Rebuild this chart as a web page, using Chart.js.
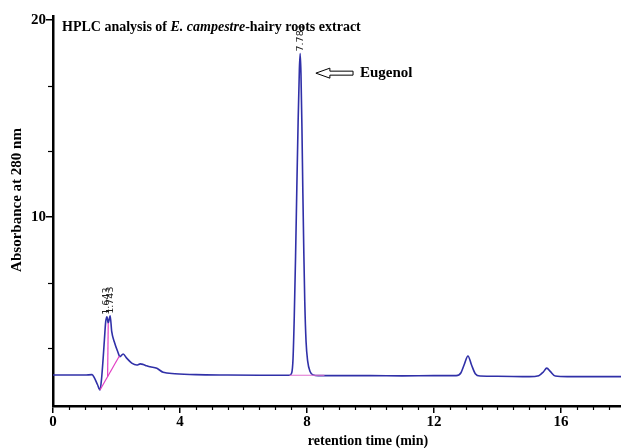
<!DOCTYPE html>
<html>
<head>
<meta charset="utf-8">
<script src="https://cdn.jsdelivr.net/npm/chart.js@4.4.1/dist/chart.umd.min.js"></script>
<style>
html,body{margin:0;padding:0;background:#fff;}
canvas{display:block;}
</style>
</head>
<body>
<canvas id="c" width="621" height="448"></canvas>
<script>
// ---- data ----
const retentionTimes = [0, 0.5, 1.0, 1.23, 1.30, 1.40, 1.48, 1.53, 1.58, 1.62, 1.66, 1.70, 1.74, 1.77, 1.80, 1.85, 1.93, 2.04, 2.11, 2.21, 2.32, 2.48, 2.64, 2.75, 2.84, 2.95, 3.06, 3.27, 3.47, 3.84, 4.5, 5.5, 6.5, 7.2, 7.45, 7.52, 7.56, 7.60, 7.64, 7.68, 7.72, 7.76, 7.785, 7.81, 7.84, 7.87, 7.90, 7.93, 7.97, 8.02, 8.10, 8.20, 8.35, 9, 10, 11, 12, 12.7, 12.85, 12.95, 13.07, 13.18, 13.3, 13.45, 14, 15, 15.3, 15.45, 15.55, 15.67, 15.82, 16.2, 17, 17.89];
const absorbance = [1.98, 1.98, 1.98, 2.0, 1.85, 1.5, 1.22, 1.8, 2.84, 3.8, 4.69, 4.94, 4.62, 4.8, 4.99, 4.18, 3.67, 3.16, 2.91, 3.05, 2.84, 2.59, 2.49, 2.55, 2.52, 2.45, 2.40, 2.32, 2.12, 2.05, 2.0, 1.98, 1.97, 1.97, 1.97, 2.1, 2.8, 5.0, 8.0, 11.5, 14.8, 17.5, 18.3, 17.3, 14.6, 11.2, 8.2, 5.7, 3.7, 2.7, 2.15, 1.98, 1.95, 1.95, 1.95, 1.94, 1.95, 1.95, 2.1, 2.5, 2.95, 2.5, 2.05, 1.93, 1.92, 1.9, 1.95, 2.15, 2.33, 2.15, 1.93, 1.9, 1.9, 1.9];
// integration baselines / drop line (pink)
const baseA_t = [1.48, 2.09], baseA_v = [1.22, 2.95];
const dropB_t = [1.74, 1.72], dropB_v = [4.62, 1.9];
const baseC_t = [7.45, 8.55], baseC_v = [1.97, 1.97];
// peak labels
const peakLabels = ["1.643", "1.743", "7.781"];
const peakTimes = [1.70, 1.80, 7.785];
const peakHeights = [4.94, 4.99, 18.3];
// ticks
const xMajorTicks = [0, 4, 8, 12, 16];
const xMinorTicks = [0.5,1,1.5,2,2.5,3,3.5,4.5,5,5.5,6,6.5,7,7.5,8.5,9,9.5,10,10.5,11,11.5,12.5,13,13.5,14,14.5,15,15.5,16.5,17,17.5];
const yMajorTicks = [10, 20];
const yMinorTicks = [10/3, 20/3, 40/3, 50/3];
const titleParts = [["HPLC analysis of ", false], ["E. campestre", true], ["-hairy roots extract", false]];
const xTitle = "retention time (min)";
const yTitle = "Absorbance at 280 nm";
const annotationText = "Eugenol";
const annotationPos = [9.67, 17.3];
const arrowFrom = [9.45, 17.3], arrowTo = [8.28, 17.3];

const zip = (t, v) => t.map((x, i) => ({x: x, y: v[i]}));
const SERIF = '"Liberation Serif", "Times New Roman", serif';

const overlay = {
  id: 'overlay',
  afterDraw(chart) {
    const c = chart.ctx, xs = chart.scales.x, ys = chart.scales.y;
    c.save();
    // minor ticks
    c.strokeStyle = '#000'; c.lineWidth = 1.2;
    const yb = ys.bottom;
    xMinorTicks.forEach(v => {
      const px = Math.round(xs.getPixelForValue(v)) + 0.5;
      c.beginPath(); c.moveTo(px, yb); c.lineTo(px, yb + 4); c.stroke();
    });
    const xl = xs.left;
    yMinorTicks.forEach(v => {
      const py = Math.round(ys.getPixelForValue(v)) + 0.5;
      c.beginPath(); c.moveTo(xl, py); c.lineTo(xl - 5, py); c.stroke();
    });
    // title
    let x = 62; const y = 31;
    c.fillStyle = '#000'; c.textBaseline = 'alphabetic'; c.textAlign = 'left';
    titleParts.forEach(([s, it]) => {
      c.font = (it ? 'italic ' : '') + 'bold 14px ' + SERIF;
      c.fillText(s, x, y);
      x += c.measureText(s).width;
    });
    // x title
    c.font = 'bold 14px ' + SERIF;
    c.textAlign = 'center'; c.textBaseline = 'middle';
    c.fillText(xTitle, 368, 441);
    // y title
    c.save(); c.translate(17, 200); c.rotate(-Math.PI / 2);
    c.font = 'bold 15px ' + SERIF;
    c.textAlign = 'center'; c.textBaseline = 'middle';
    c.fillText(yTitle, 0, 0); c.restore();
    // peak labels
    c.font = '9.5px "DejaVu Sans", sans-serif';
    c.fillStyle = '#222';
    peakLabels.forEach((s, i) => {
      const px = xs.getPixelForValue(peakTimes[i]);
      const py = ys.getPixelForValue(peakHeights[i]) - 2;
      c.save(); c.translate(px, py); c.rotate(-Math.PI / 2);
      c.textAlign = 'left'; c.textBaseline = 'middle';
      c.fillText(s, 0, 0); c.restore();
    });
    // arrow (hollow, pointing left)
    const ax0 = xs.getPixelForValue(arrowFrom[0]), ax1 = xs.getPixelForValue(arrowTo[0]);
    const ay = ys.getPixelForValue(arrowFrom[1]);
    const head = ax1 + 14;
    c.strokeStyle = '#000'; c.lineWidth = 1;
    c.beginPath();
    c.moveTo(ax1, ay);
    c.lineTo(head, ay - 5);
    c.lineTo(head, ay - 2);
    c.lineTo(ax0, ay - 2);
    c.lineTo(ax0, ay + 2);
    c.lineTo(head, ay + 2);
    c.lineTo(head, ay + 5);
    c.closePath();
    c.stroke();
    // annotation
    c.fillStyle = '#000';
    c.font = 'bold 15px ' + SERIF;
    c.textAlign = 'left'; c.textBaseline = 'middle';
    c.fillText(annotationText, xs.getPixelForValue(annotationPos[0]), ys.getPixelForValue(annotationPos[1]));
    c.restore();
  }
};

new Chart(document.getElementById('c'), {
  type: 'line',
  data: {
    datasets: [
      {data: zip(baseA_t, baseA_v), borderColor: '#e23fc4', borderWidth: 1.2, pointRadius: 0},
      {data: zip(dropB_t, dropB_v), borderColor: '#e23fc4', borderWidth: 1.2, pointRadius: 0},
      {data: zip(baseC_t, baseC_v), borderColor: '#e070d0', borderWidth: 1.2, pointRadius: 0},
      {data: zip(retentionTimes, absorbance), borderColor: '#3030a8', borderWidth: 1.6, pointRadius: 0, cubicInterpolationMode: 'monotone'}
    ]
  },
  options: {
    responsive: false,
    animation: false,
    events: [],
    layout: {padding: {top: 16, right: 0, left: 0, bottom: 0}},
    plugins: {legend: {display: false}, tooltip: {enabled: false}, title: {display: false}},
    scales: {
      x: {
        type: 'linear', min: 0, max: 17.89,
        afterFit(s) { s.height = 42; },
        afterBuildTicks(s) { s.ticks = xMajorTicks.map(v => ({value: v})); },
        ticks: {color: '#000', font: {family: SERIF, size: 15, weight: 'bold'}, padding: 0, maxRotation: 0, autoSkip: false},
        grid: {drawOnChartArea: false, drawTicks: true, tickLength: 7, color: '#000', lineWidth: 1.5},
        border: {display: true, color: '#000', width: 2.5}
      },
      y: {
        min: 0.41, max: 20.2,
        afterFit(s) { s.width = 53; },
        afterBuildTicks(s) { s.ticks = yMajorTicks.map(v => ({value: v})); },
        ticks: {color: '#000', font: {family: SERIF, size: 15, weight: 'bold'}, padding: 0, autoSkip: false},
        grid: {drawOnChartArea: false, drawTicks: true, tickLength: 7, color: '#000', lineWidth: 1.5},
        border: {display: true, color: '#000', width: 2.5}
      }
    }
  },
  plugins: [overlay]
});
</script>
</body>
</html>
